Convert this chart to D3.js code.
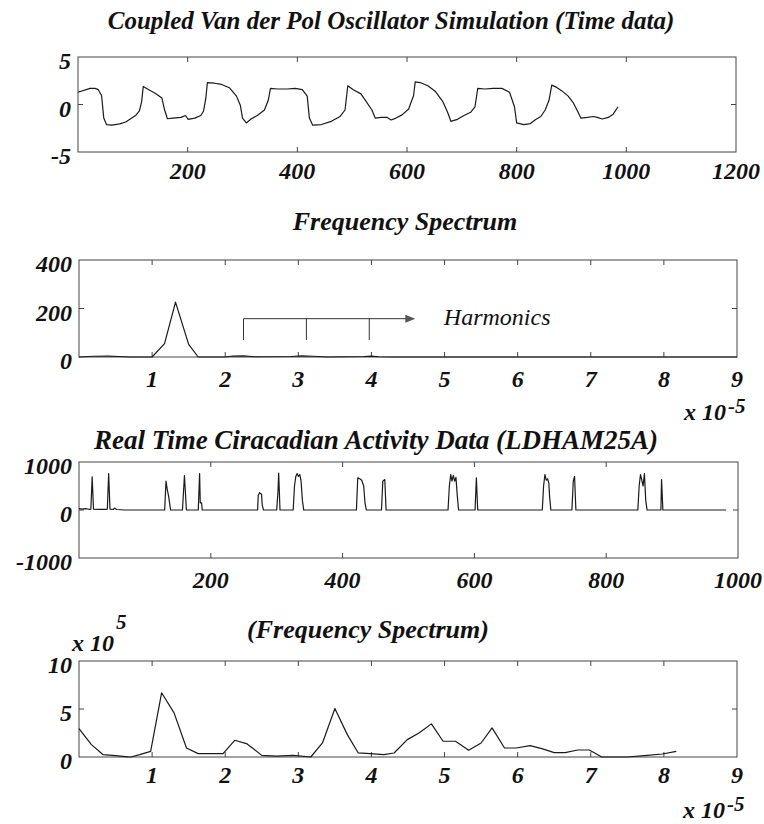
<!DOCTYPE html>
<html><head><meta charset="utf-8">
<script src="https://cdn.jsdelivr.net/npm/d3@7"></script>
<style>
body{margin:0;background:#fff;}
text{font-family:"Liberation Serif","Times New Roman",serif;font-style:italic;font-weight:bold;fill:#111;}
</style></head><body>
<svg id="c" width="764" height="824"></svg>
<script>
// ---------- DATA ----------
// Panel 1: coupled Van der Pol oscillator (time, value)
const vdpTime = [0,22,31,37,43,47,52,62,76,87,96,105,112,116,119,129,140,153,158,163,173,188,196,201,213,224,229,233,236,249,262,276,289,296,300,307,316,327,340,347,351,364,382,396,409,418,422,428,444,462,478,487,492,502,516,526,536,542,553,564,571,580,591,603,612,615,624,638,652,665,674,680,692,704,716,724,729,742,757,773,787,796,800,813,825,834,844,852,859,864,873,882,894,903,912,917,929,940,947,956,967,976,985];
const vdpValue = [1.29,1.70,1.70,1.56,0.95,-1.43,-2.11,-2.18,-2.04,-1.84,-1.50,-1.16,-0.68,0.27,1.90,1.56,1.22,0.68,-0.58,-1.50,-1.43,-1.36,-1.16,-1.56,-1.43,-1.16,-0.68,0.61,2.31,2.24,2.11,1.77,0.88,-0.07,-1.43,-1.94,-1.50,-1.16,-0.58,0.44,1.70,1.63,1.63,1.70,1.56,0.88,-1.43,-2.18,-2.11,-1.77,-1.26,-0.58,1.97,1.56,1.12,0.27,-0.58,-1.43,-1.36,-1.36,-1.63,-1.43,-1.09,-0.48,0.95,2.38,2.31,1.97,1.36,0.34,-0.82,-1.77,-1.56,-1.16,-0.82,-0.24,1.70,1.63,1.70,1.70,1.29,-0.24,-1.94,-2.11,-2.01,-1.60,-1.26,-0.58,0.44,2.04,1.80,1.46,0.88,0.20,-0.82,-1.43,-1.36,-1.26,-1.36,-1.53,-1.36,-1.02,-0.24];
const vdpXTicks = [200,400,600,800,1000,1200];
const vdpYTicks = [-5,0,5];

// Panel 2: frequency spectrum of simulation (freq x1e-5, magnitude)
const specFreq = [0,0.2,0.4,0.55,0.7,1.0,1.17,1.32,1.5,1.63,2.0,2.1,2.25,2.4,2.9,3.05,3.2,3.4,3.9,4.0,4.1,4.3,9.0];
const specValue = [0,3,4,2,0,0,55,226,52,0,0,4,5,1,2,5,3,0,2,4,1,0,0];
const specXTicks = [1,2,3,4,5,6,7,8,9];
const specYTicks = [0,200,400];
// Harmonics annotation (freq x1e-5 / magnitude)
const harmonicFreq = [2.25,3.11,3.97];
const harmonicTop = 158, harmonicBottom = 70, harmonicArrowEnd = 4.6;
const harmonicLabel = "Harmonics";

// Panel 3: real time circadian activity data (time, activity)
const actTime = [0,5,10,15,18,20,22,30,40,43,45,47,52,54,57,70,100,130,132,134,136,139,157,160,163,181,183,184,186,187,220,250,271,272,274,277,278,280,300,302,303,305,325,327,329,331,333,335,337,339,341,421,423,426,429,432,434,436,459,461,464,466,560,562,564,566,568,570,572,574,576,601,603,605,703,705,707,709,711,713,714,716,748,750,752,754,848,850,852,854,856,858,860,862,883,884,886,982];
const actValue = [30,20,30,15,20,690,20,15,15,20,760,20,10,40,10,0,0,0,600,420,290,0,0,717,0,0,760,150,150,0,0,0,0,300,360,330,100,0,0,400,770,0,0,500,700,760,700,740,600,200,0,0,670,650,620,500,150,0,0,600,635,0,0,500,740,600,720,600,680,300,0,0,670,0,0,500,740,620,650,560,300,0,0,600,700,0,0,500,740,620,500,760,200,0,0,635,0,0];
const actXTicks = [200,400,600,800,1000];
const actYTicks = [-1000,0,1000];

// Panel 4: frequency spectrum of activity (freq x1e-5, magnitude x1e5)
const actSpecFreq = [0,0.17,0.33,0.5,0.67,0.71,0.83,0.98,1.13,1.30,1.47,1.63,1.83,1.97,2.13,2.3,2.5,2.7,2.93,3.17,3.33,3.5,3.67,3.82,3.98,4.17,4.31,4.49,4.65,4.82,4.98,5.15,5.33,5.5,5.65,5.82,5.98,6.17,6.33,6.5,6.65,6.82,6.98,7.15,7.5,7.77,7.98,8.17];
const actSpecValue = [2.96,1.29,0.24,0.14,0.02,0,0.24,0.59,6.69,4.6,0.94,0.35,0.35,0.35,1.74,1.36,0.17,0.1,0.17,0,1.46,5.05,2.33,0.42,0.35,0.24,0.42,1.81,2.51,3.45,1.64,1.64,0.7,1.46,3.03,0.94,0.94,1.18,0.87,0.45,0.45,0.73,0.73,0,0,0.17,0.31,0.59];
const actSpecXTicks = [1,2,3,4,5,6,7,8,9];
const actSpecYTicks = [0,5,10];

// ---------- DRAW ----------
const svg = d3.select("#c");
const ink = "#1a1a1a";

function title(txt, cx, by, size) {
  svg.append("text").attr("x", cx).attr("y", by).attr("text-anchor", "middle")
    .style("font-size", size + "px").text(txt);
}

function panel(o) {
  const x = d3.scaleLinear().domain(o.xd).range([o.x0, o.x1]);
  const y = d3.scaleLinear().domain(o.yd).range([o.y1, o.y0]);
  const g = svg.append("g");
  g.append("rect").attr("x", o.x0).attr("y", o.y0).attr("width", o.x1 - o.x0).attr("height", o.y1 - o.y0)
    .attr("fill", "none").attr("stroke", "#444").attr("stroke-width", 1);
  const tl = 5;
  o.xt.forEach(v => {
    if (v <= o.xd[0] || v >= o.xd[1]) return;
    g.append("line").attr("x1", x(v)).attr("x2", x(v)).attr("y1", o.y0).attr("y2", o.y0 + tl).attr("stroke", "#444");
    g.append("line").attr("x1", x(v)).attr("x2", x(v)).attr("y1", o.y1).attr("y2", o.y1 - tl).attr("stroke", "#444");
  });
  o.yt.forEach(v => {
    if (v <= o.yd[0] || v >= o.yd[1]) return;
    g.append("line").attr("y1", y(v)).attr("y2", y(v)).attr("x1", o.x0).attr("x2", o.x0 + tl).attr("stroke", "#444");
    g.append("line").attr("y1", y(v)).attr("y2", y(v)).attr("x1", o.x1).attr("x2", o.x1 - tl).attr("stroke", "#444");
  });
  o.xt.forEach(v => {
    g.append("text").attr("x", x(v)).attr("y", o.y1 + o.xlOff).attr("text-anchor", "middle")
      .style("font-size", "24px").text(v);
  });
  o.yt.forEach(v => {
    g.append("text").attr("x", o.x0 - 7).attr("y", y(v) + 12).attr("text-anchor", "end")
      .style("font-size", "24px").text(v);
  });
  const line = d3.line().x(d => x(d[0])).y(d => y(d[1]));
  g.append("path").datum(d3.zip(o.xs, o.ys)).attr("d", line)
    .attr("fill", "none").attr("stroke", ink).attr("stroke-width", 1.2).attr("stroke-linejoin", "round");
  return {x, y, g};
}

function expLabel(xLeft, baseY, sup, supDy) {
  const t = svg.append("text").attr("x", xLeft).attr("y", baseY).style("font-size", "24px");
  t.append("tspan").text("x 10");
  t.append("tspan").attr("dy", supDy).attr("dx", 2).style("font-size", "21px").text(sup);
}

// Panel 1
title("Coupled Van der Pol Oscillator Simulation (Time data)", 391, 29, 25);
panel({xd:[0,1200], yd:[-5,5], x0:78, x1:736, y0:57, y1:152, xt:vdpXTicks, yt:vdpYTicks, xs:vdpTime, ys:vdpValue, xlOff:27});

// Panel 2
title("Frequency Spectrum", 405, 230, 26);
const p2 = panel({xd:[0,9], yd:[0,400], x0:79, x1:737, y0:260, y1:357, xt:specXTicks, yt:specYTicks, xs:specFreq, ys:specValue, xlOff:30});
p2.g.append("line").attr("x1", p2.x(harmonicFreq[0])).attr("x2", p2.x(harmonicArrowEnd) - 8)
  .attr("y1", p2.y(harmonicTop)).attr("y2", p2.y(harmonicTop)).attr("stroke", "#333").attr("stroke-width", 1);
p2.g.append("path").attr("d", d3.line()([[p2.x(harmonicArrowEnd), p2.y(harmonicTop)], [p2.x(harmonicArrowEnd) - 10, p2.y(harmonicTop) - 4], [p2.x(harmonicArrowEnd) - 10, p2.y(harmonicTop) + 4]]) + "Z")
  .attr("fill", "#555");
harmonicFreq.forEach(f => {
  p2.g.append("line").attr("x1", p2.x(f)).attr("x2", p2.x(f)).attr("y1", p2.y(harmonicTop)).attr("y2", p2.y(harmonicBottom))
    .attr("stroke", "#333").attr("stroke-width", 1);
});
p2.g.append("text").attr("x", p2.x(4.99)).attr("y", p2.y(harmonicTop) + 6).style("font-weight", "normal").style("font-size", "24px").text(harmonicLabel);
expLabel(684, 420, "-5", -7);

// Panel 3
title("Real Time Ciracadian Activity Data (LDHAM25A)", 376, 449, 27);
panel({xd:[0,1000], yd:[-1000,1000], x0:79, x1:738, y0:462, y1:558, xt:actXTicks, yt:actYTicks, xs:actTime, ys:actValue, xlOff:30});

// Panel 4
title("(Frequency Spectrum)", 368, 638, 26);
panel({xd:[0,9], yd:[0,10], x0:79, x1:737, y0:661, y1:757, xt:actSpecXTicks, yt:actSpecYTicks, xs:actSpecFreq, ys:actSpecValue, xlOff:26});
expLabel(683, 818, "-5", -7);
expLabel(72, 651, "5", -22);
</script></body></html>
